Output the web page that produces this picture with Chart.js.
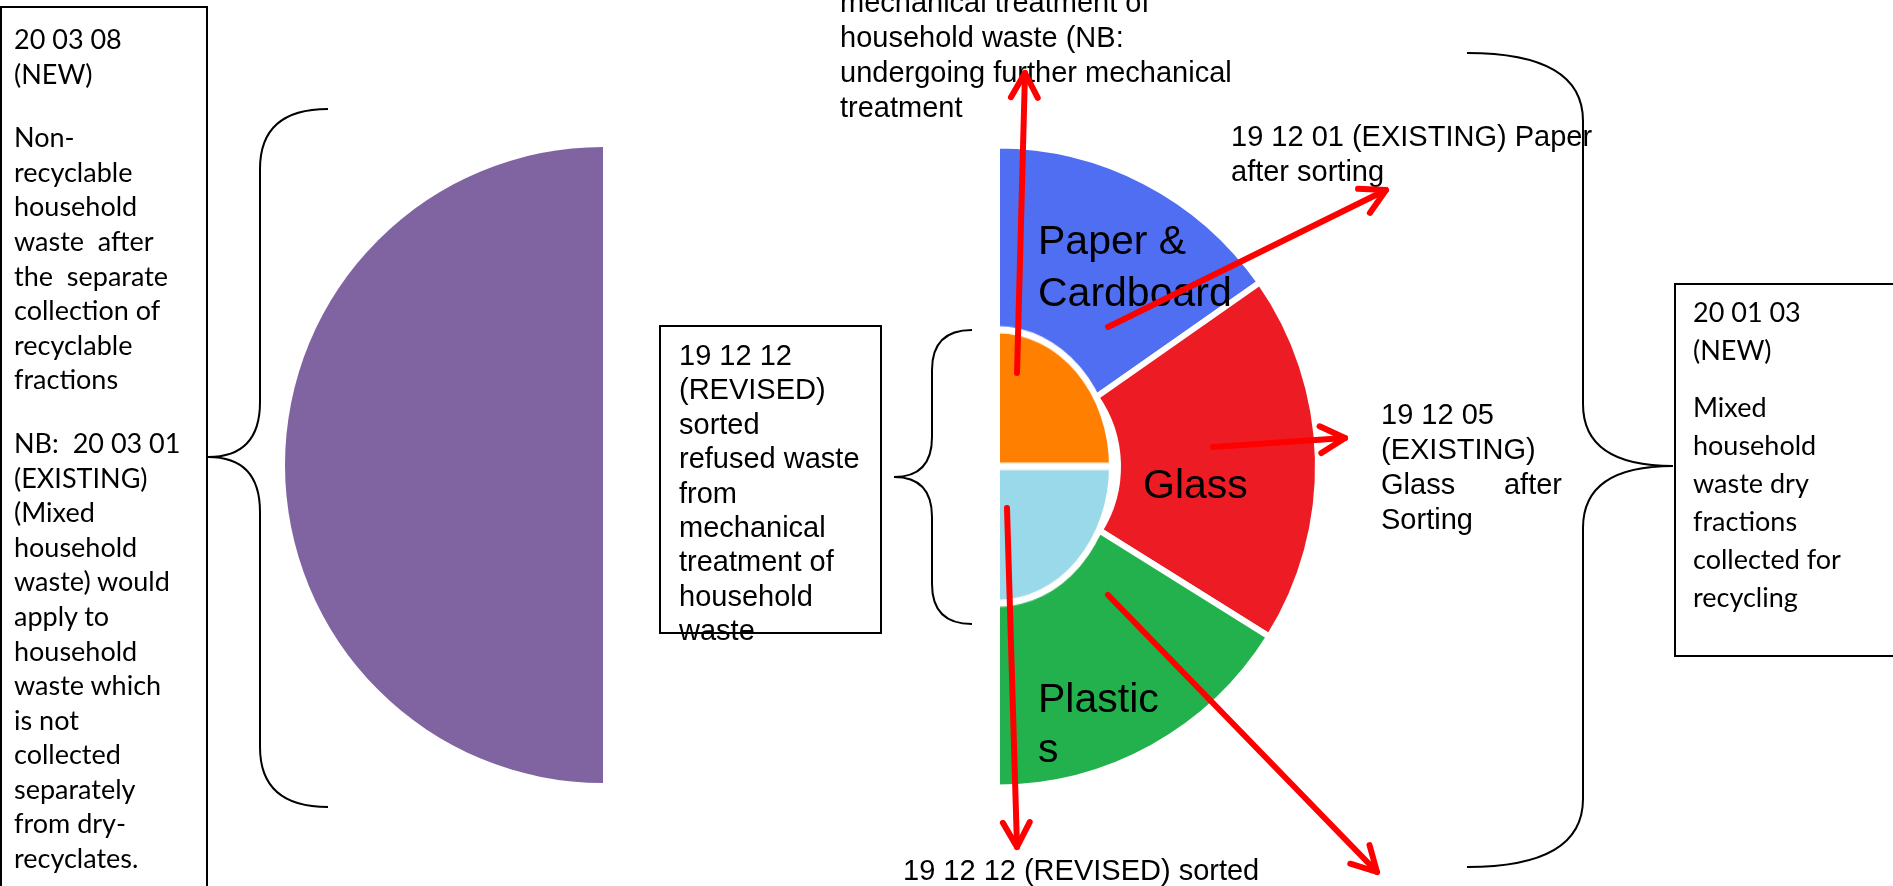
<!DOCTYPE html>
<html>
<head>
<meta charset="utf-8">
<script src="https://cdn.jsdelivr.net/npm/chart.js@4.4.1/dist/chart.umd.min.js"></script>
<style>
  html, body { margin: 0; padding: 0; background: #fff; overflow: hidden; }
  #stage { position: relative; width: 1893px; height: 886px; overflow: hidden; }
  #stage canvas { position: absolute; left: 0; top: 0; }
  /* the core picture in the source is squashed a little: stretch it vertically */
  #stage #coreChart { transform: scaleY(1.19); transform-origin: 0 466.5px; }
  .t { position: absolute; white-space: pre; color: #000; }
  .arial { font-family: "Liberation Sans", Arial, sans-serif; font-size: 29px; }
  .cal { font-family: Lato, "Open Sans", sans-serif; font-size: 27px; }
  .big { font-family: "Liberation Sans", Arial, sans-serif; font-size: 41px; }
  .box { position: absolute; border: 2px solid #000; box-sizing: border-box; }
  .just { display: flex; justify-content: space-between; width: 181px; }
</style>
</head>
<body>
<div id="stage">
  <canvas id="leftChart" width="1893" height="886"></canvas>
  <canvas id="ringChart" width="1893" height="886"></canvas>
  <canvas id="coreChart" width="1893" height="886"></canvas>

  <div class="box" style="left:0;top:6px;width:208px;height:900px"></div>
  <div class="box" style="left:659px;top:325px;width:223px;height:309px"></div>
  <div class="box" style="left:1674px;top:283px;width:240px;height:374px"></div>

  <canvas id="notes" width="1893" height="886"></canvas>
</div>

<script>
// half disc on the left: residual waste
const residualLabels = ['Non-recyclable household waste'];
const residualValues = [100];

// outer ring of the right half: dry recyclables
const ringLabels = ['Paper & Cardboard', 'Glass', 'Plastics'];
const ringValues = [55, 67, 58];

// inner core of the right half: sorted refuse
const coreLabels = ['Refuse (further treatment)', 'Refuse (sorted)'];
const coreValues = [50, 50];

const stage = document.getElementById('stage');
const notesCanvas = document.getElementById('notes');

function place(cls, x, y, lh, paras, gap) {
    const el = document.createElement('div');
    el.className = 't ' + cls;
    el.style.left = x + 'px';
    el.style.top = y + 'px';
    el.style.lineHeight = lh + 'px';
    paras.forEach((p, i) => {
        const d = document.createElement('div');
        if (i > 0) d.style.marginTop = gap + 'px';
        d.textContent = p.join('\n');
        el.appendChild(d);
    });
    stage.insertBefore(el, notesCanvas);
    return el;
}

place('cal', 14, 22, 34.6, [
    ['20 03 08', '(NEW)'],
    ['Non-', 'recyclable', 'household', 'waste  after', 'the  separate', 'collection of', 'recyclable', 'fractions'],
    ['NB:  20 03 01', '(EXISTING)', '(Mixed', 'household', 'waste) would', 'apply to', 'household', 'waste which',
     'is not', 'collected', 'separately', 'from dry-', 'recyclates.']
], 29);

place('cal', 1693, 293, 38, [
    ['20 01 03', '(NEW)'],
    ['Mixed', 'household', 'waste dry', 'fractions', 'collected for', 'recycling']
], 19);

place('arial', 679, 338, 34.4, [
    ['19 12 12', '(REVISED)', 'sorted', 'refused waste', 'from', 'mechanical', 'treatment of', 'household', 'waste']
], 0);

place('arial', 840, -15.5, 35.2, [
    ['mechanical treatment of', 'household waste (NB:', 'undergoing further mechanical', 'treatment']
], 0);

place('arial', 1231, 119, 34.5, [['19 12 01 (EXISTING) Paper', 'after sorting']], 0);
place('arial', 903, 853, 35, [['19 12 12 (REVISED) sorted']], 0);

// glass code: third line is justified across the block
const glass = place('arial', 1381, 397, 35, [['19 12 05', '(EXISTING)']], 0);
const gl = document.createElement('div');
gl.className = 'just';
gl.innerHTML = '<span>Glass</span><span>after</span>';
glass.appendChild(gl);
const gs = document.createElement('div');
gs.textContent = 'Sorting';
glass.appendChild(gs);

place('big', 1038, 213.5, 52.7, [['Paper &', 'Cardboard']], 0);
place('big', 1143, 458, 52, [['Glass']], 0);
place('big', 1038, 672.5, 50, [['Plastic', 's']], 0);

const W = 1893, H = 886;
const CX = 997, CY = 466.5;

// left half disc
new Chart(document.getElementById('leftChart'), {
    type: 'pie',
    data: {
        labels: residualLabels,
        datasets: [{
            data: residualValues,
            backgroundColor: ['#8064a2'],
            borderWidth: 0
        }]
    },
    options: {
        responsive: false,
        animation: false,
        events: [],
        rotation: 180,
        circumference: 180,
        radius: 318,
        layout: { padding: { left: 285, right: W - 603, top: 147, bottom: H - 783 } },
        plugins: { legend: { display: false }, tooltip: { enabled: false } }
    }
});

// right half: recyclables ring (centre lands on CX because of the half-circle offset)
const ringR = 321;
new Chart(document.getElementById('ringChart'), {
    type: 'doughnut',
    data: {
        labels: ringLabels,
        datasets: [{
            label: 'Dry recyclables',
            data: ringValues,
            backgroundColor: ['#4f6ef2', '#ed1c24', '#22b14c'],
            borderColor: '#ffffff',
            borderWidth: 6
        }]
    },
    options: {
        responsive: false,
        animation: false,
        events: [],
        rotation: 0,
        circumference: 180,
        radius: ringR,
        cutout: (121 / ringR * 100) + '%',
        layout: { padding: { left: CX, right: W - CX - ringR, top: CY - ringR, bottom: H - CY - ringR } },
        plugins: { legend: { display: false }, tooltip: { enabled: false } }
    }
});

// refuse core
const coreR = 115;
new Chart(document.getElementById('coreChart'), {
    type: 'pie',
    data: {
        labels: coreLabels,
        datasets: [{
            label: 'Sorted refuse',
            data: coreValues,
            backgroundColor: ['#ff7f00', '#99d9ea'],
            borderColor: '#ffffff',
            borderWidth: 6
        }]
    },
    options: {
        responsive: false,
        animation: false,
        events: [],
        rotation: 0,
        circumference: 180,
        radius: coreR,
        layout: { padding: { left: CX, right: W - CX - coreR, top: CY - coreR, bottom: H - CY - coreR } },
        plugins: { legend: { display: false }, tooltip: { enabled: false } }
    }
});

// red arrows from each fraction to its code
const arrowPaths = [
    [[1017, 373], [1025, 73]],
    [[1108, 327], [1386, 190]],
    [[1213, 447], [1345, 438]],
    [[1007, 508], [1017, 847]],
    [[1108, 595], [1377, 872]]
];

// curly brackets: end x, spine x, tip x, top y, tip y, bottom y, end curve, tip curve
const braces = [
    [328, 260, 208, 109, 457, 807, 60, 55],
    [972, 932, 894, 330, 477, 624, 40, 40],
    [1467, 1583, 1673, 53, 466, 867, 68, 62]
];

const notesPlugin = {
    id: 'notes',
    afterDatasetsDraw(chart) {
        const ctx = chart.ctx;
        const xs = chart.scales.x, ys = chart.scales.y;
        const px = v => xs.getPixelForValue(v), py = v => ys.getPixelForValue(v);
        ctx.save();
        ctx.strokeStyle = '#000';
        ctx.lineWidth = 2;
        braces.forEach(([xe, xsp, xt, y0, yt, y1, rc, rt]) => {
            ctx.beginPath();
            ctx.moveTo(px(xe), py(y0));
            ctx.quadraticCurveTo(px(xsp), py(y0), px(xsp), py(y0 + rc));
            ctx.lineTo(px(xsp), py(yt - rt));
            ctx.quadraticCurveTo(px(xsp), py(yt), px(xt), py(yt));
            ctx.quadraticCurveTo(px(xsp), py(yt), px(xsp), py(yt + rt));
            ctx.lineTo(px(xsp), py(y1 - rc));
            ctx.quadraticCurveTo(px(xsp), py(y1), px(xe), py(y1));
            ctx.stroke();
        });
        ctx.strokeStyle = '#ff0000';
        ctx.lineWidth = 6;
        ctx.lineCap = 'round';
        ctx.lineJoin = 'round';
        arrowPaths.forEach(([a, b]) => {
            const x0 = px(a[0]), y0 = py(a[1]), x1 = px(b[0]), y1 = py(b[1]);
            const ang = Math.atan2(y1 - y0, x1 - x0);
            const len = 28, spread = 0.5;
            ctx.beginPath();
            ctx.moveTo(x1 - len * Math.cos(ang - spread), y1 - len * Math.sin(ang - spread));
            ctx.lineTo(x1, y1);
            ctx.lineTo(x1 - len * Math.cos(ang + spread), y1 - len * Math.sin(ang + spread));
            ctx.stroke();
        });
        ctx.restore();
    }
};

new Chart(notesCanvas, {
    type: 'scatter',
    data: {
        datasets: arrowPaths.map(p => ({
            data: p.map(([x, y]) => ({ x, y })),
            showLine: true,
            borderColor: '#ff0000',
            borderWidth: 6,
            borderCapStyle: 'round',
            pointRadius: 0,
            clip: false
        }))
    },
    options: {
        responsive: false,
        animation: false,
        events: [],
        layout: { padding: 0 },
        scales: {
            x: { type: 'linear', min: 0, max: W, display: false },
            y: { type: 'linear', min: 0, max: H, reverse: true, display: false }
        },
        plugins: { legend: { display: false }, tooltip: { enabled: false } }
    },
    plugins: [notesPlugin]
});
</script>
</body>
</html>
